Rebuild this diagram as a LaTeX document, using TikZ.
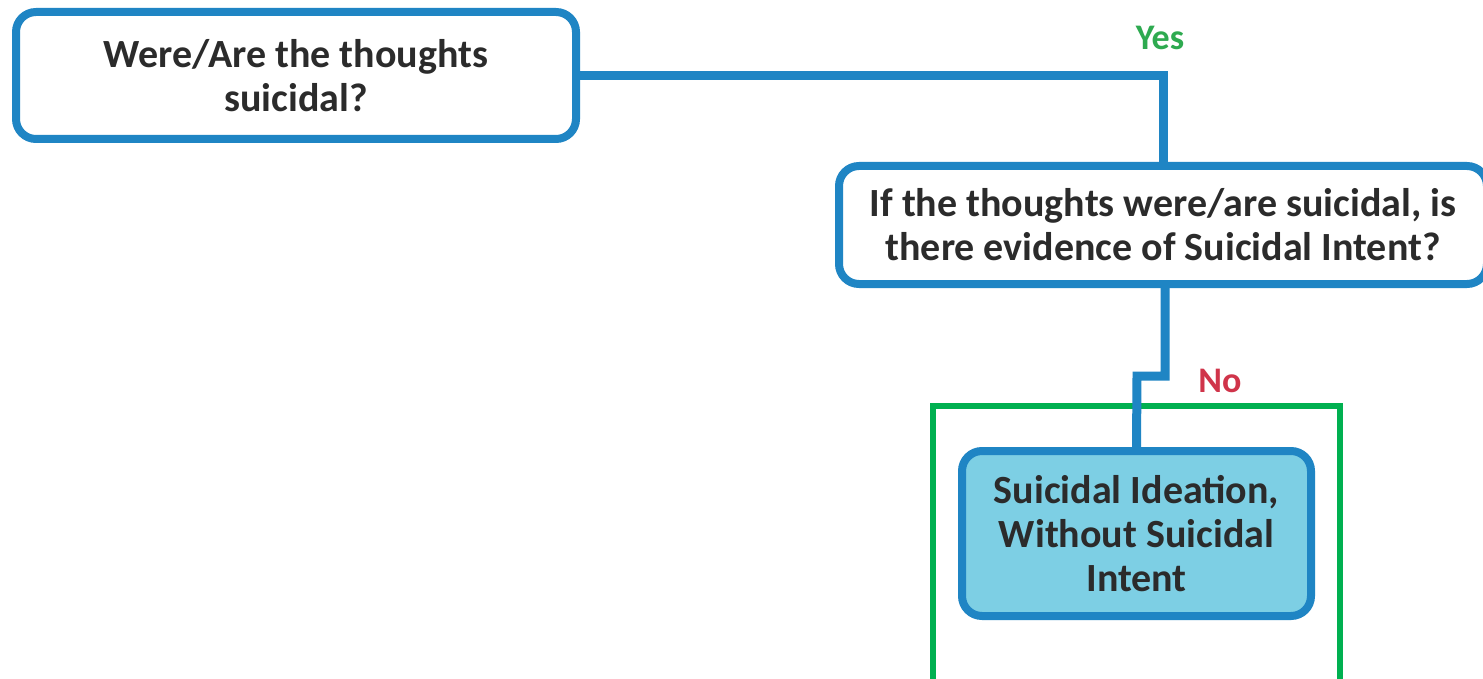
\documentclass[tikz,border=0pt]{standalone}
\usepackage{fontspec}
\setmainfont{Carlito}
\usetikzlibrary{backgrounds}
\definecolor{boxblue}{HTML}{1F85C4}
\definecolor{lightfill}{HTML}{7DCFE4}
\definecolor{txt}{HTML}{2B2B2B}
\definecolor{yesgreen}{HTML}{2EAA50}
\definecolor{nored}{HTML}{D0344A}
\definecolor{frame}{HTML}{00B050}
\begin{document}
\begin{tikzpicture}[x=1pt,y=-1pt,
  qbox/.style={draw=boxblue, line width=8pt, rounded corners=20pt, fill=white,
    align=center, text=txt, font=\fontsize{40}{44}\selectfont\bfseries, inner sep=0pt},
  rbox/.style={qbox, fill=lightfill},
  conn/.style={draw=boxblue, line width=9pt},
  lbl/.style={font=\fontsize{36}{40}\selectfont\bfseries, inner sep=0pt}]
\useasboundingbox (0,0) rectangle (1483,679);
\node[qbox, minimum width=560pt, minimum height=127pt] (b1) at (296,75.5) {Were/Are the thoughts\\suicidal?};
\node[qbox, minimum width=648pt, minimum height=118pt] (b2) at (1163,225) {If the thoughts were/are suicidal, is\\there evidence of Suicidal Intent?};
\node[rbox, minimum width=349pt, minimum height=165pt] (b3) at (1136.5,533.5) {Suicidal Ideation,\\Without Suicidal\\Intent};
\node[lbl, text=yesgreen] (yes) at (1160,38) {Yes};
\node[lbl, text=nored] (no) at (1220,381) {No};
\coordinate (kink) at (1137,376);
\begin{scope}[on background layer]
\fill[white] (0,0) rectangle (1483,679);
\draw[frame, line width=6pt] (933,680) -- (933,406) -- (1340,406) -- (1340,680);
\draw[conn] (b1.east) -| (b2.north);
\draw[conn] ([xshift=2pt]b2.south) |- (kink) -- (b3.north);
\end{scope}
\end{tikzpicture}
\end{document}
